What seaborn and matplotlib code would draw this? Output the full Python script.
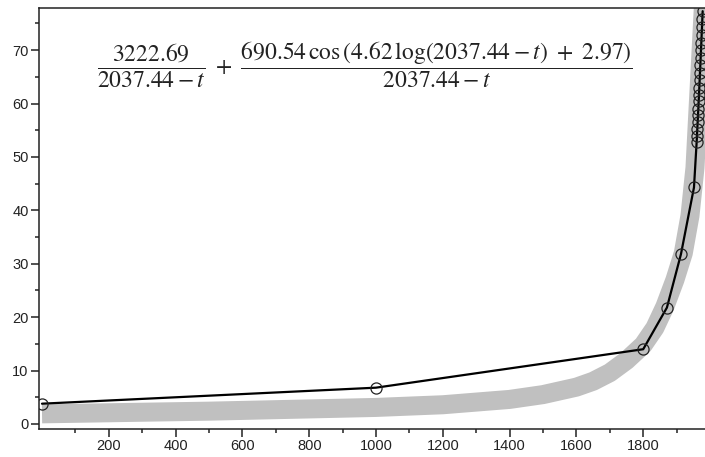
import matplotlib
matplotlib.use("Agg")
import matplotlib.pyplot as plt
import seaborn as sns
import pandas as pd

# ---- data ----
# observed series (circles joined by black line)
obs_t = [0, 1000, 1800, 1871, 1913, 1952,
         1960, 1961, 1962, 1963, 1964, 1965, 1966, 1967, 1968, 1969,
         1970, 1971, 1972, 1973, 1974, 1975, 1976, 1977, 1978]
obs_y = [3.8, 6.8, 14.0, 21.8, 31.8, 44.3,
         52.8, 54.0, 55.3, 56.5, 57.8, 59.0, 60.4, 61.7, 63.0, 64.4,
         65.8, 67.2, 68.6, 70.0, 71.4, 72.9, 74.3, 75.8, 77.3]

# centre line of the thick grey model curve
band_t = [0, 500, 1000, 1200, 1400, 1500, 1600, 1650, 1700, 1750, 1800,
          1835, 1865, 1895, 1920, 1940, 1955, 1965, 1975, 1985]
band_y = [1.9, 2.4, 3.1, 3.6, 4.6, 5.5, 6.9, 8.0, 9.6, 11.9, 14.8,
          18.0, 22.0, 27.0, 32.0, 39.0, 48.0, 60.0, 72.0, 84.0]

x_ticks = [200, 400, 600, 800, 1000, 1200, 1400, 1600, 1800]
y_ticks = [0, 10, 20, 30, 40, 50, 60, 70]

formula = (r"$\dfrac{3222.69}{2037.44 - t}\ +\ "
           r"\dfrac{690.54\,\cos\left(4.62\,\log(2037.44 - t)\ +\ 2.97\right)}{2037.44 - t}$")

obs = pd.DataFrame({"t": obs_t, "y": obs_y})
band = pd.DataFrame({"t": band_t, "y": band_y})

sns.set_style("ticks")
plt.rcParams["font.family"] = ["Liberation Sans Narrow", "Liberation Sans", "DejaVu Sans"]
plt.rcParams["mathtext.fontset"] = "stix"

fig = plt.figure(figsize=(7.05, 4.57), dpi=100)
ax = fig.add_axes([39 / 705, 28 / 457, 666 / 705, 421 / 457])

sns.lineplot(data=band, x="t", y="y", ax=ax, color="#c0c0c0", linewidth=13.7,
             solid_capstyle="butt", solid_joinstyle="round", sort=False, estimator=None)
sns.lineplot(data=obs, x="t", y="y", ax=ax, color="black", linewidth=1.6,
             marker="o", markersize=8, markerfacecolor="none",
             markeredgecolor="#222222", markeredgewidth=0.9,
             sort=False, estimator=None)

ax.set_xlim(-9, 1985)
ax.set_ylim(-0.94, 77.9)
ax.set_xticks(x_ticks)
ax.set_yticks(y_ticks)
ax.set_xticks([t + 100 for t in [0] + x_ticks], minor=True)
ax.set_yticks([v + 5 for v in y_ticks], minor=True)
ax.set_xlabel("")
ax.set_ylabel("")

ax.tick_params(which="major", length=5.5, width=1.1, pad=2, labelsize=10.5,
               color="#222222", labelcolor="#222222")
ax.tick_params(which="minor", length=3, width=1.1, color="#222222")
for s in ["left", "bottom", "top"]:
    ax.spines[s].set_linewidth(1.1)
    ax.spines[s].set_color("#222222")
ax.spines["right"].set_visible(False)

ax.text(0.49, 0.865, formula, transform=ax.transAxes, ha="center", va="center",
        fontsize=17, color="#222222")

fig.savefig("out.png", dpi=100)
